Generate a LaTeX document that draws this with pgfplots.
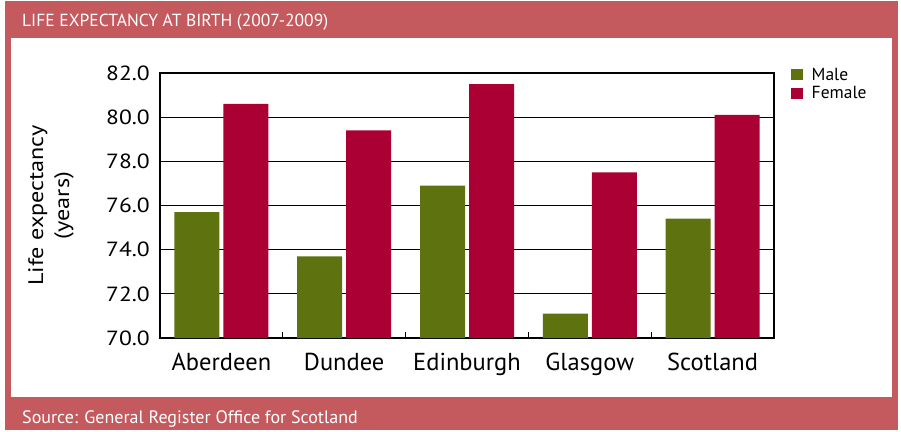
\documentclass[border=0pt]{standalone}
\usepackage{fontspec}
\setmainfont{PT Sans}
\newfontfamily\widesans[FakeStretch=1.15]{PT Sans}
\usepackage{pgfplots}
\pgfplotsset{compat=1.18}
\definecolor{framec}{RGB}{196,90,94}
\definecolor{male}{RGB}{95,114,16}
\definecolor{female}{RGB}{170,0,51}
\begin{document}
\begin{tikzpicture}[x=1pt,y=1pt]
\useasboundingbox (0pt,0pt) rectangle (901pt,431pt);
\fill[white] (0pt,0pt) rectangle (901pt,431pt);
\fill[framec] (5pt,1pt) rectangle (898pt,430pt);
\fill[white] (11pt,34pt) rectangle (892pt,393pt);
\node[anchor=base west, text=white, font=\fontsize{17.5}{20}\selectfont, inner sep=0pt] at (22pt,404pt) {LIFE EXPECTANCY AT BIRTH (2007-2009)};
\node[anchor=base west, text=white, font=\fontsize{18}{20}\selectfont, inner sep=0pt] at (22pt,8pt) {Source: General Register Office for Scotland};
\begin{axis}[
  at={(160pt,93pt)}, anchor=south west,
  scale only axis, width=614pt, height=265pt,
  ybar=4pt, bar width=45pt,
  xmin=-0.5, xmax=4.5, ymin=70, ymax=82,
  xtick={0,1,2,3,4},
  xticklabels={Aberdeen,Dundee,Edinburgh,Glasgow,Scotland},
  xtick style={draw=none},
  extra x ticks={0.5,1.5,2.5,3.5},
  extra x tick labels={},
  extra x tick style={xtick style={draw=black,line width=1pt}, major tick length=6pt, tick align=inside},
  ytick={70,72,74,76,78,80,82},
  yticklabels={70.0,72.0,74.0,76.0,78.0,80.0,82.0},
  ytick style={draw=none},
  tick pos=left,
  ymajorgrids,
  grid style={black, line width=1.1pt},
  axis line style={black, line width=1.4pt},
  xticklabel style={font=\fontsize{24.5}{28}\selectfont, inner sep=0pt},
  yticklabel style={font=\widesans\fontsize{20.5}{24}\selectfont, inner sep=0pt},
  xticklabel shift=11pt,
  yticklabel shift=10pt,
  ylabel={Life expectancy\\(years)},
  ylabel style={font=\widesans\fontsize{21}{26}\selectfont, align=center, at={(axis description cs:-0.1775,0.5)}, anchor=center, rotate=0},
  legend style={at={(axis description cs:1.022,1.035)}, anchor=north west, draw=none, fill=none,
    font=\fontsize{17.5}{20}\selectfont, row sep=1pt, column sep=7pt, legend cell align=left},
  every axis plot post/.append style={legend image code/.code={\fill[##1] (0pt,-5.5pt) rectangle (12pt,5.5pt);}},
]
\addplot[fill=male, draw=none] coordinates {(0,75.7) (1,73.7) (2,76.9) (3,71.1) (4,75.4)};
\addplot[fill=female, draw=none] coordinates {(0,80.6) (1,79.4) (2,81.5) (3,77.5) (4,80.1)};
\legend{Male,Female}
\end{axis}
\end{tikzpicture}
\end{document}
